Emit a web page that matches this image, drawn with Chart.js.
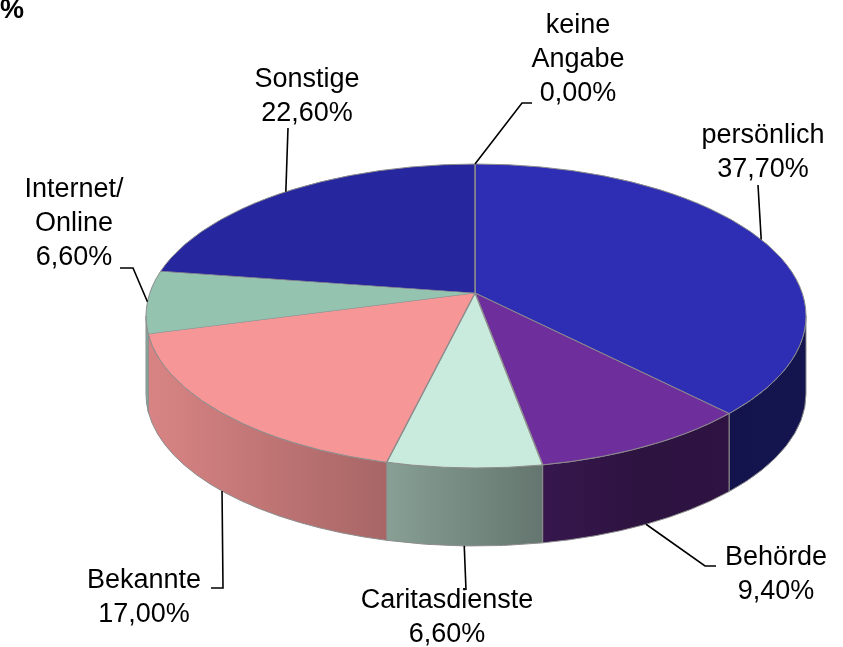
<!DOCTYPE html>
<html>
<head>
<meta charset="utf-8">
<script src="https://cdn.jsdelivr.net/npm/chart.js@4.4.1/dist/chart.umd.min.js"></script>
<style>
    html, body { margin: 0; padding: 0; background: #fff; }
    #wrap { width: 843px; height: 647px; }
</style>
</head>
<body>
<div id="wrap"><canvas id="pie3d" width="843" height="647"></canvas></div>
<script>
// Daten
const categories = [['persönlich'], ['Behörde'], ['Caritasdienste'], ['Bekannte'], ['Internet/', 'Online'], ['Sonstige'], ['keine', 'Angabe']];
const shares = [37.7, 9.4, 6.6, 17.0, 6.6, 22.6, 0.0];
const sliceColors = ['#2E2EB4', '#6E2E9C', '#C8EBDD', '#F79696', '#94C4B0', '#26269E', '#3434B0'];

// top face of the pie on screen: ellipse outline + apex (a bit above the centre, fake perspective)
const E = { x: 476, y: 316, rx: 330, ry: 152, depth: 78 };
const APEX = { x: 475, y: 293 };
const OVERSCAN = 1.3;

// text centre, first baseline and leader bends for each label
const labelLayout = [
    { side: false, cx: 763, y: 143, path: [[758, 185]] },
    { side: true,  cx: 776, y: 565, path: [[705, 566], [716, 566]] },
    { side: true,  cx: 447, y: 608, path: [[466, 590]] },
    { side: true,  cx: 144, y: 588, path: [[223, 588], [211, 588]] },
    { side: false, cx: 74,  y: 197, path: [[133, 268], [120, 268]] },
    { side: false, cx: 307, y: 87,  path: [[288, 128]] },
    { side: false, cx: 578, y: 33,  path: [[522, 103], [532, 103]] }
];
const lineHeight = 34;

function hexToRgb(hex) {
    const n = parseInt(hex.slice(1), 16);
    return [(n >> 16) & 255, (n >> 8) & 255, n & 255];
}
function shade(rgb, f) {
    return 'rgb(' + rgb.map(c => Math.round(c * f)).join(',') + ')';
}

// side gets darker from left to right
const sideLight = [[0, 0.88], [0.36, 0.68], [0.6, 0.5], [0.75, 0.41], [1, 0.44]];
function sideGradient(ctx, color) {
    const g = ctx.createLinearGradient(E.x - E.rx, 0, E.x + E.rx, 0);
    const rgb = hexToRgb(color);
    sideLight.forEach(([t, f]) => g.addColorStop(t, shade(rgb, f)));
    return g;
}

// where a slice edge (pie angle) meets the outline of the top face
function rayHit(theta) {
    const dx = E.rx * Math.cos(theta), dy = E.ry * Math.sin(theta);
    const ox = APEX.x - E.x, oy = APEX.y - E.y;
    const A = (dx / E.rx) ** 2 + (dy / E.ry) ** 2;
    const B = 2 * (ox * dx / E.rx ** 2 + oy * dy / E.ry ** 2);
    const C = (ox / E.rx) ** 2 + (oy / E.ry) ** 2 - 1;
    const t = (-B + Math.sqrt(B * B - 4 * A * C)) / (2 * A);
    const x = APEX.x + dx * t, y = APEX.y + dy * t;
    return { x: x, y: y, param: Math.atan2((y - E.y) / E.ry, (x - E.x) / E.rx) };
}

const pie3dPlugin = {
    id: 'pie3d',
    beforeDatasetsDraw(chart) {
        const ctx = chart.ctx;
        const arcs = chart.getDatasetMeta(0).data;
        // side walls
        arcs.forEach((arc, i) => {
            let s = rayHit(arc.startAngle).param;
            let e = rayHit(arc.endAngle).param;
            if (arc.endAngle - arc.startAngle <= 0) return;
            while (e < s) e += Math.PI * 2;
            s = Math.max(s, 0);
            e = Math.min(e, Math.PI);
            if (e <= s) return;
            ctx.save();
            ctx.beginPath();
            ctx.ellipse(E.x, E.y, E.rx, E.ry, 0, s, e);
            ctx.lineTo(E.x + E.rx * Math.cos(e), E.y + E.ry * Math.sin(e) + E.depth);
            ctx.ellipse(E.x, E.y + E.depth, E.rx, E.ry, 0, e, s, true);
            ctx.closePath();
            ctx.fillStyle = sideGradient(ctx, sliceColors[i]);
            ctx.fill();
            ctx.strokeStyle = '#8c8c8c';
            ctx.lineWidth = 1;
            ctx.stroke();
            ctx.restore();
        });
        // squash the round pie, put its centre on the apex and cut it to the top face
        const a = arcs[0];
        ctx.save();
        ctx.beginPath();
        ctx.ellipse(E.x, E.y, E.rx, E.ry, 0, 0, Math.PI * 2);
        ctx.clip();
        ctx.translate(APEX.x, APEX.y);
        ctx.scale(OVERSCAN * E.rx / a.outerRadius, OVERSCAN * E.ry / a.outerRadius);
        ctx.translate(-a.x, -a.y);
    },
    afterDatasetsDraw(chart) {
        const ctx = chart.ctx;
        ctx.restore();

        // outline of the top face
        ctx.save();
        ctx.beginPath();
        ctx.ellipse(E.x, E.y, E.rx, E.ry, 0, 0, Math.PI * 2);
        ctx.strokeStyle = '#8c8c8c';
        ctx.lineWidth = 1;
        ctx.stroke();
        ctx.restore();

        const arcs = chart.getDatasetMeta(0).data;
        ctx.save();
        ctx.font = '27px "Liberation Sans", Arial, sans-serif';
        ctx.textAlign = 'center';
        ctx.textBaseline = 'alphabetic';
        arcs.forEach((arc, i) => {
            const L = labelLayout[i];
            const h = rayHit((arc.startAngle + arc.endAngle) / 2);
            const ax = h.x;
            const ay = h.y + (L.side ? E.depth : 0);

            ctx.beginPath();
            ctx.moveTo(ax, ay);
            L.path.forEach(p => ctx.lineTo(p[0], p[1]));
            ctx.strokeStyle = '#000';
            ctx.lineWidth = 1.6;
            ctx.stroke();

            const lines = categories[i].concat([shares[i].toFixed(2).replace('.', ',') + '%']);
            ctx.fillStyle = '#000';
            lines.forEach((t, k) => ctx.fillText(t, L.cx, L.y + k * lineHeight));
        });

        // Titelrest oben links
        ctx.font = 'bold 27px "Liberation Sans", Arial, sans-serif';
        ctx.textAlign = 'left';
        ctx.fillText('%', 0, 18);
        ctx.restore();
    }
};

document.addEventListener('DOMContentLoaded', function () {
    const ctx = document.getElementById('pie3d').getContext('2d');
    new Chart(ctx, {
        type: 'pie',
        data: {
            labels: categories,
            datasets: [{
                data: shares,
                backgroundColor: sliceColors,
                borderColor: '#8c8c8c',
                borderWidth: 1.1,
                clip: false
            }]
        },
        options: {
            responsive: false,
            animation: false,
            events: [],
            plugins: {
                legend: { display: false },
                tooltip: { enabled: false },
                title: { display: false }
            }
        },
        plugins: [pie3dPlugin]
    });
});
</script>
</body>
</html>
